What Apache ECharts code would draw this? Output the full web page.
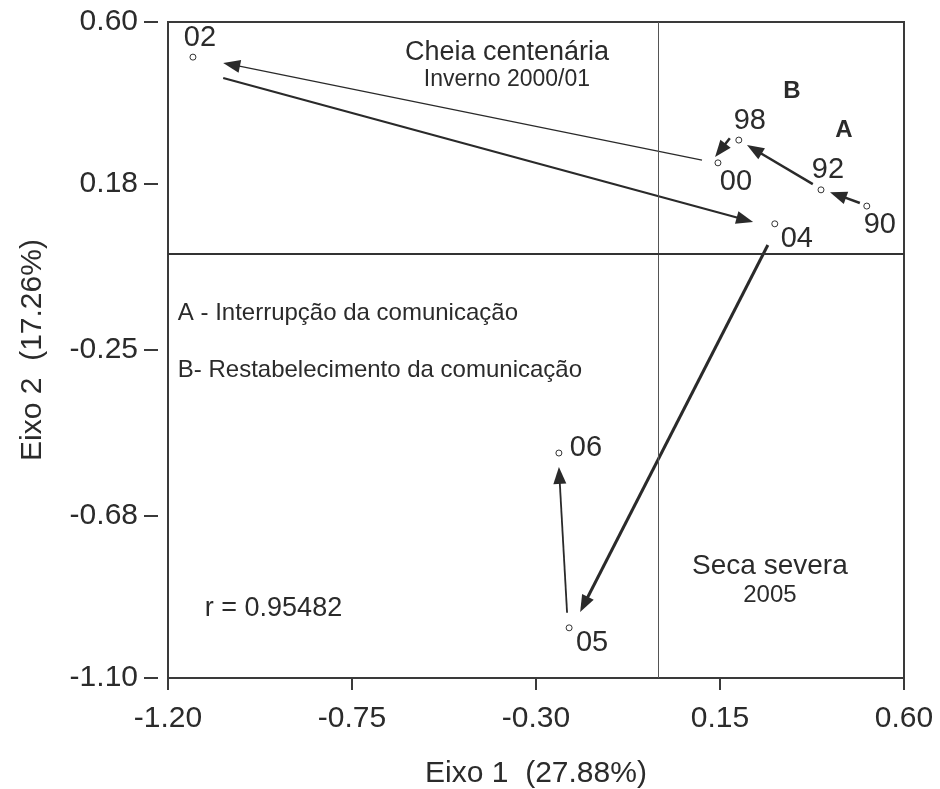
<!DOCTYPE html>
<html>
<head>
<meta charset="utf-8">
<script src="https://cdn.jsdelivr.net/npm/echarts@6/dist/echarts.min.js"></script>
<style>
html,body{margin:0;padding:0;background:#fff;}
#chart{width:940px;height:789px;}
</style>
</head>
<body>
<div id="chart"></div>
<script>
// ---- data ----
const xTickLabels = ['-1.20', '-0.75', '-0.30', '0.15', '0.60'];
const yTickLabels = ['-1.10', '-0.68', '-0.25', '0.18', '0.60'];
const xAxisName = 'Eixo 1  (27.88%)';
const yAxisName = 'Eixo 2  (17.26%)';

const pointNames = ['90', '92', '98', '00', '02', '04', '05', '06'];
const pointX = [0.509, 0.397, 0.196, 0.145, -1.139, 0.284, -0.219, -0.244];
const pointY = [0.123, 0.165, 0.294, 0.235, 0.509, 0.077, -0.970, -0.517];

// arrows (trajectory), in axis units
const arrowFromX = [0.492, 0.377, 0.174, 0.106, -1.065, 0.267, -0.224];
const arrowFromY = [0.131, 0.180, 0.299, 0.242, 0.455, 0.022, -0.931];
const arrowToX = [0.419, 0.216, 0.138, -1.065, 0.231, -0.192, -0.244];
const arrowToY = [0.159, 0.281, 0.250, 0.494, 0.082, -0.929, -0.553];

// annotation texts and their anchor in axis units
const noteTexts = ['Cheia centenária', 'Inverno 2000/01', 'B', 'A',
  'A - Interrupção da comunicação', 'B- Restabelecimento da comunicação',
  'r = 0.95482', 'Seca severa', '2005'];
const noteX = [-0.371, -0.371, 0.326, 0.453, -1.176, -1.176, -1.110, 0.272, 0.272];
const noteY = [0.520, 0.450, 0.419, 0.320, -0.154, -0.302, -0.919, -0.810, -0.885];

// ---- styles ----
const FONT = "'Liberation Sans', Arial, sans-serif";
const TXT = '#2b2b2b';
const labelOffsets = {
  '90': [13, 19], '92': [7, -20], '98': [11, -19], '00': [18, 19],
  '02': [7, -19], '04': [22, 15], '05': [23, 15], '06': [27, -5]
};
const arrowWidths = [2.5, 2.5, 2.5, 1.2, 2.2, 3, 1.8];
const noteStyles = [
  {size: 27, align: 'center', weight: 'normal'},
  {size: 23, align: 'center', weight: 'normal'},
  {size: 24, align: 'center', weight: 'bold'},
  {size: 24, align: 'center', weight: 'bold'},
  {size: 24, align: 'left', weight: 'normal'},
  {size: 24, align: 'left', weight: 'normal'},
  {size: 27, align: 'left', weight: 'normal'},
  {size: 28, align: 'center', weight: 'normal'},
  {size: 24, align: 'center', weight: 'normal'}
];

const xTickValues = xTickLabels.map(Number);
const yTickValues = yTickLabels.map(Number);
function nearestLabel(v, vals, labels) {
  let best = 0;
  for (let i = 1; i < vals.length; i++) if (Math.abs(vals[i] - v) < Math.abs(vals[best] - v)) best = i;
  return labels[best];
}

const scatterData = pointNames.map((n, i) => ({
  name: n,
  value: [pointX[i], pointY[i]],
  label: {offset: labelOffsets[n]}
}));
const arrowData = arrowFromX.map((x, i) => [x, arrowFromY[i], arrowToX[i], arrowToY[i], i]);

const chart = echarts.init(document.getElementById('chart'), null, {renderer: 'canvas'});
chart.setOption({
  animation: false,
  backgroundColor: '#fff',
  textStyle: {fontFamily: FONT},
  grid: {left: 168, top: 22, width: 736, height: 656, containLabel: false, outerBoundsMode: 'none',
    show: true, borderColor: '#3a3a3a', borderWidth: 2, backgroundColor: 'transparent'},
  xAxis: {
    type: 'value', min: -1.20, max: 0.60, position: 'bottom',
    name: xAxisName, nameLocation: 'middle', nameGap: 81,
    nameTextStyle: {fontSize: 30, color: TXT, fontFamily: FONT},
    axisLine: {show: false, onZero: false},
    splitLine: {show: false},
    axisTick: {show: true, length: 12, lineStyle: {color: '#3a3a3a', width: 2}, customValues: xTickValues},
    axisLabel: {
      fontSize: 30, color: TXT, fontFamily: FONT, margin: 26, customValues: xTickValues,
      formatter: v => nearestLabel(v, xTickValues, xTickLabels)
    }
  },
  yAxis: {
    type: 'value', min: -1.10, max: 0.60, offset: 10, position: 'left',
    name: yAxisName, nameLocation: 'middle', nameGap: 110, nameRotate: 90,
    nameTextStyle: {fontSize: 30, color: TXT, fontFamily: FONT},
    axisLine: {show: false, onZero: false},
    splitLine: {show: false},
    axisTick: {show: true, length: 14, lineStyle: {color: '#3a3a3a', width: 2}, customValues: yTickValues},
    axisLabel: {
      fontSize: 30, color: TXT, fontFamily: FONT, margin: 20, customValues: yTickValues,
      formatter: v => nearestLabel(v, yTickValues, yTickLabels)
    }
  },
  series: [
    {
      type: 'scatter',
      symbol: 'circle',
      symbolSize: 6,
      itemStyle: {color: '#fff', borderColor: '#333', borderWidth: 1, opacity: 1},
      label: {
        show: true, position: 'inside', formatter: p => p.name,
        fontSize: 29, color: TXT, fontFamily: FONT, align: 'center', verticalAlign: 'middle',
        textBorderWidth: 0
      },
      data: scatterData,
      markLine: {
        silent: true, symbol: 'none', label: {show: false},
        data: [
          {xAxis: 0, lineStyle: {color: '#555', width: 1, type: 'solid'}},
          {yAxis: 0, lineStyle: {color: '#333', width: 2, type: 'solid'}}
        ]
      },
      z: 5
    },
    {
      type: 'custom',
      coordinateSystem: 'cartesian2d',
      data: arrowData,
      encode: {x: [0, 2], y: [1, 3]},
      renderItem: function (params, api) {
        const p1 = api.coord([api.value(0), api.value(1)]);
        const p2 = api.coord([api.value(2), api.value(3)]);
        const w = arrowWidths[api.value(4)];
        const dx = p2[0] - p1[0], dy = p2[1] - p1[1];
        const len = Math.sqrt(dx * dx + dy * dy);
        const ux = dx / len, uy = dy / len;
        const L = 17, W = 6.5;
        const bx = p2[0] - ux * L, by = p2[1] - uy * L;
        const nx = -uy, ny = ux;
        return {
          type: 'group',
          children: [
            {type: 'line', shape: {x1: p1[0], y1: p1[1], x2: bx + ux * 3, y2: by + uy * 3},
              style: {stroke: '#2a2a2a', lineWidth: w}},
            {type: 'polygon', shape: {points: [[p2[0], p2[1]], [bx + nx * W, by + ny * W], [bx - nx * W, by - ny * W]]},
              style: {fill: '#2a2a2a'}}
          ]
        };
      },
      z: 4
    }
  ]
});

const graphics = noteTexts.map((t, i) => {
  const p = chart.convertToPixel({gridIndex: 0}, [noteX[i], noteY[i]]);
  const s = noteStyles[i];
  return {
    type: 'text', x: p[0], y: p[1], z: 10,
    style: {text: t, fill: TXT, font: s.weight + ' ' + s.size + 'px ' + FONT, textAlign: s.align, textVerticalAlign: 'middle'}
  };
});
chart.setOption({graphic: graphics});
</script>
</body>
</html>
